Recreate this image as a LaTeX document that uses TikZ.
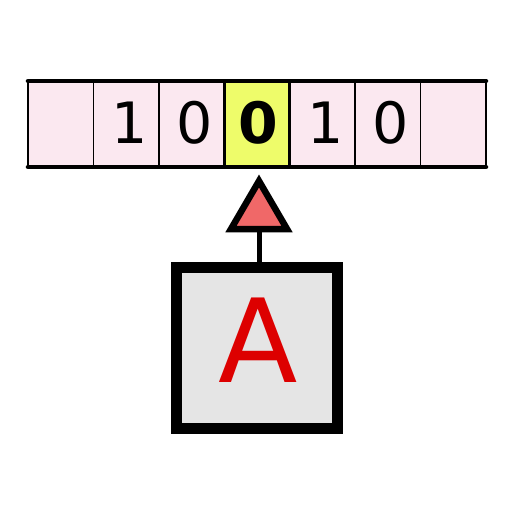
\documentclass[tikz,border=0pt]{standalone}
\usepackage{fontspec}
\setmainfont{DejaVu Sans}
\definecolor{tapepink}{HTML}{FBE8F0}
\definecolor{headyellow}{HTML}{EEFC6A}
\definecolor{headred}{HTML}{F06868}
\definecolor{boxgray}{HTML}{E5E5E5}
\definecolor{letterred}{HTML}{DD0000}
\begin{document}
\begin{tikzpicture}[x=1pt,y=-1pt,
  cell/.style={draw=black, line width=1.5pt, fill=tapepink, minimum width=65.43pt,
    minimum height=86pt, inner sep=0pt, outer sep=0pt},
  curcell/.style={cell, fill=headyellow, line width=3.5pt},
  digit/.style={inner sep=0pt, font=\fontsize{57}{60}\selectfont},
  curdigit/.style={digit, font=\fontsize{57}{60}\selectfont\bfseries},
  tapeline/.style={line width=4.5pt, line cap=round},
  headtri/.style={draw=black, fill=headred, line width=6.5pt, line join=miter},
  stem/.style={line width=5pt},
  machine/.style={draw=black, fill=boxgray, line width=11pt, minimum width=161pt,
    minimum height=161pt, inner sep=0pt, outer sep=0pt},
  letter/.style={text=letterred, font=\fontsize{116}{120}\selectfont, inner sep=0pt}
]
\useasboundingbox (0,0) rectangle (512,512);
\node[cell] (c1) at (60.71,124) {};
\node[cell] (c2) at (126.14,124) {};
\node[cell] (c3) at (191.57,124) {};
\node[cell] (c5) at (322.43,124) {};
\node[cell] (c6) at (387.86,124) {};
\node[cell] (c7) at (453.29,124) {};
\node[curcell] (c4) at (257,124) {};
\node[digit] (d2) at ([shift={(3,-1.5)}]c2.center) {1};
\node[digit] (d3) at ([shift={(3,-1.5)}]c3.center) {0};
\node[curdigit] (d4) at ([shift={(1,-1.5)}]c4.center) {0};
\node[digit] (d5) at ([shift={(3,-1.5)}]c5.center) {1};
\node[digit] (d6) at ([shift={(3,-1.5)}]c6.center) {0};
\draw[tapeline] (c1.north west) -- (c7.north east);
\draw[tapeline] (c1.south west) -- (c7.south east);
\coordinate (apex) at (259,181);
\coordinate (bl) at (231,229);
\coordinate (br) at (287,229);
\coordinate (hb) at (259,229);
\draw[headtri] (apex) -- (bl) -- (br) -- cycle;
\node[machine] (box) at (256.5,347.5) {};
\node[letter] (lab) at ([shift={(2,-7.5)}]box.center) {A};
\draw[stem] (hb |- box.north) -- (hb);
\end{tikzpicture}
\end{document}
